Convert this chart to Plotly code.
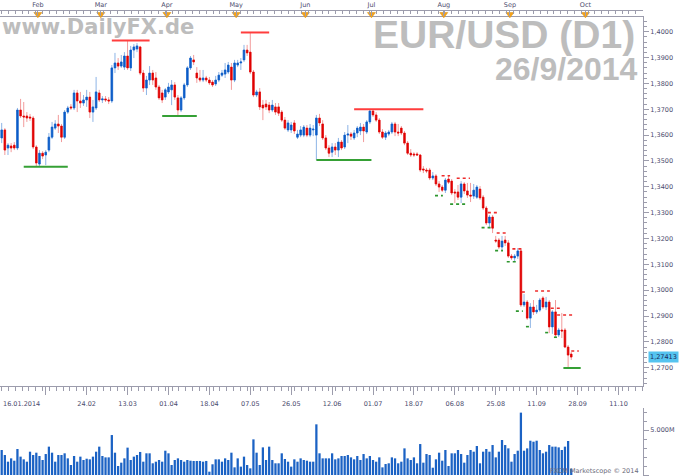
import numpy as np
import pandas as pd
import plotly.graph_objects as go

# ---------------- data ----------------
start_date = "2014-01-16"

opens = [
1.3589,1.3620,1.3550,1.3558,1.3561,1.3550,1.3697,1.3674,1.3674,1.3670,
1.3666,1.3554,1.3488,1.3530,1.3523,1.3542,1.3592,1.3627,1.3643,1.3635,
1.3592,1.3689,1.3709,1.3705,1.3763,1.3732,1.3724,1.3736,1.3747,1.3689,
1.3705,1.3763,1.3736,1.3740,1.3736,1.3732,1.3860,1.3879,1.3867,1.3863,
1.3906,1.3860,1.3929,1.3933,1.3941,1.3840,1.3782,1.3813,1.3840,1.3821,
1.3786,1.3763,1.3747,1.3767,1.3775,1.3794,1.3744,1.3697,1.3744,1.3794,
1.3860,1.3891,1.3840,1.3821,1.3813,1.3821,1.3813,1.3805,1.3798,1.3813,
1.3832,1.3836,1.3844,1.3863,1.3813,1.3871,1.3879,1.3891,1.3929,1.3921,
1.3844,1.3755,1.3767,1.3716,1.3720,1.3716,1.3697,1.3709,1.3709,1.3689,
1.3658,1.3620,1.3620,1.3647,1.3592,1.3600,1.3600,1.3627,1.3600,1.3620,
1.3600,1.3666,1.3643,1.3589,1.3550,1.3534,1.3554,1.3542,1.3573,1.3554,
1.3600,1.3604,1.3589,1.3608,1.3616,1.3631,1.3612,1.3651,1.3693,1.3678,
1.3658,1.3612,1.3592,1.3604,1.3612,1.3643,1.3612,1.3627,1.3608,1.3569,
1.3530,1.3527,1.3527,1.3523,1.3469,1.3465,1.3465,1.3434,1.3442,1.3411,
1.3399,1.3387,1.3430,1.3422,1.3380,1.3380,1.3360,1.3411,1.3384,1.3368,
1.3364,1.3360,1.3391,1.3360,1.3318,1.3260,1.3283,1.3194,1.3194,1.3167,
1.3194,1.3183,1.3132,1.3125,1.3132,1.3152,1.2943,1.2954,1.2892,1.2935,
1.2916,1.2923,1.2970,1.2935,1.2954,1.2858,1.2916,1.2827,1.2846,1.2846,
1.2780,1.2753]

highs = [
1.3647,1.3627,1.3569,1.3569,1.3573,1.3705,1.3740,1.3728,1.3689,1.3682,
1.3674,1.3561,1.3542,1.3538,1.3542,1.3608,1.3651,1.3658,1.3678,1.3643,
1.3697,1.3713,1.3720,1.3775,1.3775,1.3767,1.3755,1.3775,1.3767,1.3736,
1.3825,1.3775,1.3751,1.3751,1.3747,1.3871,1.3918,1.3898,1.3910,1.3921,
1.3968,1.3945,1.3952,1.3956,1.3945,1.3852,1.3829,1.3867,1.3852,1.3844,
1.3794,1.3775,1.3782,1.3802,1.3813,1.3805,1.3755,1.3751,1.3802,1.3867,
1.3906,1.3910,1.3863,1.3852,1.3852,1.3829,1.3825,1.3813,1.3829,1.3844,
1.3852,1.3879,1.3883,1.3879,1.3891,1.3891,1.3898,1.3949,1.3949,1.3995,
1.3852,1.3775,1.3782,1.3736,1.3736,1.3728,1.3736,1.3724,1.3724,1.3697,
1.3670,1.3658,1.3651,1.3658,1.3620,1.3635,1.3639,1.3639,1.3643,1.3639,
1.3678,1.3682,1.3658,1.3600,1.3561,1.3569,1.3569,1.3589,1.3581,1.3612,
1.3639,1.3612,1.3620,1.3635,1.3647,1.3643,1.3658,1.3701,1.3701,1.3689,
1.3666,1.3623,1.3616,1.3620,1.3651,1.3651,1.3643,1.3635,1.3616,1.3577,
1.3546,1.3534,1.3534,1.3527,1.3480,1.3473,1.3473,1.3457,1.3449,1.3422,
1.3407,1.3434,1.3442,1.3430,1.3391,1.3407,1.3422,1.3418,1.3415,1.3415,
1.3411,1.3407,1.3403,1.3368,1.3326,1.3291,1.3291,1.3210,1.3202,1.3210,
1.3210,1.3194,1.3140,1.3140,1.3163,1.3159,1.2985,1.2962,1.2950,1.2962,
1.2943,1.2970,1.2977,1.2974,1.2962,1.2923,1.2962,1.2854,1.2912,1.2854,
1.2788,1.2761]

lows = [
1.3569,1.3523,1.3523,1.3534,1.3542,1.3542,1.3666,1.3631,1.3651,1.3655,
1.3546,1.3480,1.3480,1.3507,1.3484,1.3534,1.3585,1.3620,1.3608,1.3573,
1.3585,1.3682,1.3697,1.3697,1.3689,1.3705,1.3713,1.3709,1.3666,1.3651,
1.3697,1.3728,1.3724,1.3728,1.3720,1.3724,1.3840,1.3852,1.3860,1.3852,
1.3852,1.3848,1.3898,1.3921,1.3832,1.3767,1.3755,1.3794,1.3794,1.3775,
1.3736,1.3724,1.3736,1.3759,1.3716,1.3736,1.3674,1.3689,1.3736,1.3786,
1.3852,1.3871,1.3802,1.3805,1.3805,1.3805,1.3794,1.3786,1.3790,1.3805,
1.3825,1.3821,1.3836,1.3775,1.3805,1.3863,1.3852,1.3883,1.3906,1.3836,
1.3747,1.3747,1.3697,1.3658,1.3697,1.3685,1.3689,1.3678,1.3674,1.3651,
1.3620,1.3612,1.3608,1.3604,1.3585,1.3592,1.3592,1.3592,1.3592,1.3596,
1.3504,1.3635,1.3581,1.3542,1.3515,1.3515,1.3523,1.3515,1.3542,1.3546,
1.3569,1.3581,1.3581,1.3592,1.3600,1.3573,1.3604,1.3643,1.3670,1.3651,
1.3604,1.3585,1.3581,1.3596,1.3604,1.3596,1.3596,1.3600,1.3561,1.3523,
1.3515,1.3515,1.3519,1.3457,1.3453,1.3453,1.3426,1.3426,1.3403,1.3380,
1.3380,1.3376,1.3411,1.3368,1.3337,1.3349,1.3337,1.3372,1.3357,1.3341,
1.3353,1.3353,1.3349,1.3310,1.3252,1.3240,1.3221,1.3183,1.3159,1.3155,
1.3171,1.3125,1.3117,1.3109,1.3121,1.2935,1.2935,1.2885,1.2854,1.2904,
1.2908,1.2916,1.2927,1.2923,1.2834,1.2831,1.2819,1.2819,1.2815,1.2776,
1.2699,1.2730]

closes = [
1.3620,1.3542,1.3561,1.3550,1.3550,1.3697,1.3674,1.3670,1.3666,1.3666,
1.3554,1.3492,1.3530,1.3519,1.3534,1.3592,1.3631,1.3643,1.3635,1.3592,
1.3689,1.3705,1.3705,1.3763,1.3732,1.3724,1.3736,1.3747,1.3689,1.3709,
1.3767,1.3736,1.3740,1.3736,1.3732,1.3860,1.3879,1.3867,1.3883,1.3906,
1.3860,1.3929,1.3941,1.3945,1.3840,1.3782,1.3813,1.3840,1.3813,1.3786,
1.3744,1.3736,1.3775,1.3786,1.3794,1.3747,1.3697,1.3744,1.3794,1.3860,
1.3898,1.3883,1.3821,1.3813,1.3821,1.3813,1.3802,1.3794,1.3813,1.3832,
1.3840,1.3852,1.3871,1.3813,1.3879,1.3879,1.3883,1.3929,1.3918,1.3844,
1.3755,1.3767,1.3709,1.3705,1.3709,1.3697,1.3716,1.3689,1.3685,1.3658,
1.3627,1.3647,1.3639,1.3616,1.3604,1.3620,1.3631,1.3600,1.3627,1.3623,
1.3666,1.3647,1.3589,1.3550,1.3530,1.3554,1.3542,1.3573,1.3550,1.3600,
1.3604,1.3596,1.3608,1.3627,1.3631,1.3616,1.3651,1.3693,1.3678,1.3658,
1.3612,1.3592,1.3608,1.3612,1.3643,1.3612,1.3608,1.3608,1.3569,1.3530,
1.3523,1.3523,1.3523,1.3465,1.3465,1.3461,1.3434,1.3442,1.3411,1.3399,
1.3387,1.3426,1.3418,1.3376,1.3376,1.3360,1.3411,1.3384,1.3368,1.3364,
1.3387,1.3399,1.3357,1.3318,1.3260,1.3283,1.3240,1.3190,1.3167,1.3190,
1.3183,1.3132,1.3125,1.3132,1.3152,1.2943,1.2954,1.2892,1.2935,1.2916,
1.2923,1.2962,1.2935,1.2954,1.2858,1.2916,1.2827,1.2846,1.2842,1.2780,
1.2749,1.27413]

volumes_m = [
2.78,2.22,1.48,1.85,1.59,2.89,2.04,1.74,1.48,2.59,
2.22,2.48,2.11,1.67,2.33,3.15,2.48,1.48,2.22,2.22,
2.41,1.85,1.11,2.11,1.48,2.04,1.67,1.81,1.74,2.04,
2.59,3.15,2.11,1.96,1.96,4.44,2.48,1.00,1.37,1.85,
3.04,1.67,2.04,2.22,2.56,1.48,2.41,2.41,1.30,1.48,
1.67,1.48,2.70,2.41,1.11,1.67,1.85,1.67,1.48,1.67,
1.59,1.56,1.56,1.56,1.48,1.56,0.37,1.19,1.74,1.74,
1.48,1.85,1.67,2.48,0.85,1.85,0.93,2.04,1.11,0.74,
3.96,2.48,1.11,3.07,1.67,3.15,1.67,1.30,1.30,2.41,
1.78,1.48,0.93,1.74,1.48,1.85,1.67,1.59,1.48,1.48,
5.63,2.41,1.85,1.85,1.85,2.41,1.74,1.85,2.11,2.11,
2.22,1.96,1.74,2.11,1.67,2.33,1.85,2.11,1.67,1.48,
1.96,0.85,1.22,1.30,1.96,1.85,1.30,1.48,2.96,1.85,
1.67,1.96,1.30,3.44,1.37,2.33,2.22,0.81,1.74,2.48,
1.59,2.78,1.00,2.41,2.41,2.78,2.33,1.37,2.22,2.78,
2.59,3.22,1.30,2.59,2.89,2.59,3.33,1.96,2.59,3.89,
3.33,2.96,1.48,2.33,2.70,6.93,2.70,2.96,3.81,3.70,
3.81,2.78,2.41,2.59,3.33,3.15,3.15,3.07,2.78,3.15,
3.78,0.70]

# support / resistance levels (bar index span, price)
res_start = [35, 76, 112]
res_end = [47, 85, 134]
res_price = [1.3966, 1.3997, 1.3700]
sup_start = [7, 51, 100, 178.5]
sup_end = [21, 62, 117.5, 184]
sup_price = [1.3478, 1.3674, 1.3504, 1.2699]

rdot_start = [139.8, 144.6, 154.5, 157.3, 162.3, 165.3, 169.5, 174.5, 176.5, 181]
rdot_end = [142.5, 148.8, 157.4, 160.9, 165.3, 167.2, 174.2, 177.4, 181.5, 183.4]
rdot_price = [1.3443, 1.3433, 1.3300, 1.3221, 1.3160, 1.2993, 1.2997, 1.2930, 1.2904, 1.2765]
gdot_start = [137.7, 142.5, 152.5, 156.8, 160.5, 163.4, 166.6, 172.7, 175.5]
gdot_end = [140.2, 148.2, 155.4, 159.3, 164.1, 165.6, 168.2, 174.2, 177.1]
gdot_price = [1.3366, 1.3333, 1.3242, 1.3153, 1.3110, 1.2919, 1.2859, 1.2836, 1.2818]

month_dates = ["2014-02-01", "2014-03-01", "2014-04-01", "2014-05-01", "2014-06-01",
               "2014-07-01", "2014-08-01", "2014-09-01", "2014-10-01"]
month_labels = ["Feb", "Mar", "Apr", "May", "Jun", "Jul", "Aug", "Sep", "Oct"]

date_tick_dates = ["2014-01-16", "2014-02-05", "2014-02-24", "2014-03-13", "2014-04-01",
                   "2014-04-18", "2014-05-07", "2014-05-26", "2014-06-12", "2014-07-01",
                   "2014-07-18", "2014-08-06", "2014-08-25", "2014-09-11", "2014-09-28",
                   "2014-10-11"]
date_tick_labels = ["", "", "24.02", "13.03", "01.04", "18.04", "07.05", "26.05", "12.06",
                    "01.07", "18.07", "06.08", "25.08", "11.09", "28.09", "11.10"]

price_ticks = [1.27, 1.28, 1.29, 1.30, 1.31, 1.32, 1.33, 1.34, 1.35, 1.36, 1.37, 1.38, 1.39, 1.40]
last_price = 1.27413

n = len(closes)
assert len(opens) == n and len(highs) == n and len(lows) == n and len(volumes_m) == n
dates = pd.bdate_range(start_date, periods=n)
last_day = dates[-1]
idx = list(range(n))


def pos(d, shift=0.0):
    d = pd.Timestamp(d)
    if d <= last_day:
        return float(np.busday_count(np.datetime64(start_date, "D"),
                                     np.datetime64(d.date(), "D"))) + shift
    return float(n - 1 + (d - last_day).days) + shift


month_pos = [pos(d, -0.5) for d in month_dates]
date_pos = [pos(d) for d in date_tick_dates]

AX = "#9c9cac"
TXT = "#4b4b6e"
FONT = "DejaVu Sans"
PLOT_W = 643.0
H = 476.0

fig = go.Figure()

# wicks (light) + bodies (solid)
fig.add_trace(go.Candlestick(
    x=idx, open=opens, high=highs, low=lows, close=closes,
    increasing=dict(line=dict(color="#8db4e6", width=1), fillcolor="#8db4e6"),
    decreasing=dict(line=dict(color="#f29b9b", width=1), fillcolor="#f29b9b"),
    whiskerwidth=0, hoverinfo="skip", xaxis="x", yaxis="y"))
body_hi = [max(o, c) for o, c in zip(opens, closes)]
body_lo = [min(o, c) for o, c in zip(opens, closes)]
fig.add_trace(go.Candlestick(
    x=idx, open=opens, high=body_hi, low=body_lo, close=closes,
    increasing=dict(line=dict(color="#0b5cc8", width=0.6), fillcolor="#0b5cc8"),
    decreasing=dict(line=dict(color="#e00000", width=0.6), fillcolor="#e00000"),
    whiskerwidth=0, xaxis="x", yaxis="y"))


def seg(starts, ends, prices):
    xs, ys = [], []
    for s, e, p in zip(starts, ends, prices):
        xs += [s, e, None]
        ys += [p, p, None]
    return xs, ys


xs, ys = seg(res_start, res_end, res_price)
fig.add_trace(go.Scatter(x=xs, y=ys, mode="lines", line=dict(color="#ff3d3d", width=2),
                         hoverinfo="skip", xaxis="x", yaxis="y"))
xs, ys = seg(sup_start, sup_end, sup_price)
fig.add_trace(go.Scatter(x=xs, y=ys, mode="lines", line=dict(color="#35a035", width=2),
                         hoverinfo="skip", xaxis="x", yaxis="y"))
xs, ys = seg(rdot_start, rdot_end, rdot_price)
fig.add_trace(go.Scatter(x=xs, y=ys, mode="lines", line=dict(color="#ee2b2b", width=1.6, dash="dot"),
                         hoverinfo="skip", xaxis="x", yaxis="y"))
xs, ys = seg(gdot_start, gdot_end, gdot_price)
fig.add_trace(go.Scatter(x=xs, y=ys, mode="lines", line=dict(color="#2e962e", width=1.6, dash="dot"),
                         hoverinfo="skip", xaxis="x", yaxis="y"))

# volume
fig.add_trace(go.Bar(x=idx, y=volumes_m, width=0.72, marker=dict(color="#1b62c4", line=dict(width=0)),
                     xaxis="x2", yaxis="y2", hoverinfo="skip"))

# month markers on top ruler
fig.add_trace(go.Scatter(x=month_pos, y=[0.45] * len(month_pos), mode="markers",
                         marker=dict(symbol="triangle-down", size=7, color="#f5a31c",
                                     line=dict(color="#d98a00", width=0.5)),
                         xaxis="x3", yaxis="y3", cliponaxis=False, hoverinfo="skip"))


def py(pix):
    return 1 - pix / H


def px(pix):
    return pix / PLOT_W


x_range = [-0.54, 203.8]
p_bot = 1.412263 - 0.00038685 * 386
p_top = 1.412263 - 0.00038685 * 17

minor_x = [k * 13 / 6.0 for k in range(0, 96)]

fig.update_layout(
    width=680, height=476, margin=dict(l=0, r=680 - PLOT_W, t=0, b=0, autoexpand=False),
    paper_bgcolor="white", plot_bgcolor="white", showlegend=False,
    font=dict(family=FONT, size=7, color=TXT),
    boxgap=0.3, boxmode="overlay",
    xaxis=dict(domain=[0, 1], range=x_range, anchor="y", rangeslider=dict(visible=False),
               tickmode="array", tickvals=date_pos, ticktext=date_tick_labels,
               ticks="outside", ticklen=8, tickcolor=AX, showline=True, linecolor=AX,
               mirror=True, showgrid=False, zeroline=False, ticklabelstandoff=3,
               tickfont=dict(size=6.5, color=TXT),
               minor=dict(tickvals=minor_x, ticks="outside", ticklen=4, tickcolor=AX, showgrid=False)),
    yaxis=dict(domain=[py(386), py(17)], range=[p_bot, p_top], side="right", anchor="x",
               tickmode="array", tickvals=price_ticks,
               ticktext=[f"{v:.4f}".replace(".", ",") for v in price_ticks],
               ticks="outside", ticklen=5, tickcolor=AX, showline=True, linecolor=AX,
               showgrid=False, zeroline=False, tickfont=dict(size=6.5, color=TXT),
               minor=dict(dtick=0.002, ticks="outside", ticklen=3, tickcolor=AX, showgrid=False)),
    xaxis2=dict(domain=[0, 1], matches="x", anchor="y2", showticklabels=False, ticks="",
                showline=False, showgrid=False, zeroline=False),
    yaxis2=dict(domain=[0, py(408)], range=[-1 / 9.0, 67 / 9.0], side="right", anchor="x2",
                tickmode="array", tickvals=[0, 5], ticktext=["0", "5.000M"],
                ticks="outside", ticklen=5, tickcolor=AX, showline=True, linecolor=AX,
                showgrid=False, zeroline=False, tickfont=dict(size=6.5, color=TXT),
                minor=dict(dtick=1, ticks="outside", ticklen=3, tickcolor=AX, showgrid=False)),
    xaxis3=dict(domain=[0, 1], matches="x", anchor="y3", side="top",
                tickmode="array", tickvals=month_pos, ticktext=month_labels,
                ticks="inside", ticklen=5, tickcolor=AX, showline=True, linecolor=AX,
                showgrid=False, zeroline=False, tickfont=dict(size=6.5, color=TXT),
                minor=dict(tickvals=minor_x, ticks="inside", ticklen=3, tickcolor=AX, showgrid=False)),
    yaxis3=dict(domain=[py(17), py(11)], range=[0, 1], anchor="x3", visible=False),
)

ann = []
ann.append(dict(text="<b>www.DailyFX.de</b>", x=px(0), y=py(27), xref="paper", yref="paper",
                xanchor="left", yanchor="middle", showarrow=False,
                font=dict(family="DejaVu Sans", size=21, color="#bdbdbd")))
ann.append(dict(text="<b>EUR/USD (D1)</b>", x=px(637), y=py(35), xref="paper", yref="paper",
                xanchor="right", yanchor="middle", showarrow=False,
                font=dict(family="Liberation Sans", size=39, color="#bdbdbd")))
ann.append(dict(text="<b>26/9/2014</b>", x=px(640), y=py(69), xref="paper", yref="paper",
                xanchor="right", yanchor="middle", showarrow=False,
                font=dict(family="Liberation Sans", size=32, color="#bdbdbd")))
ann.append(dict(text="16.01.2014", x=px(1), y=py(404), xref="paper", yref="paper",
                xanchor="left", yanchor="middle", showarrow=False,
                font=dict(family=FONT, size=6.5, color=TXT)))
ann.append(dict(text=f"{last_price:.5f}".replace(".", ","), x=px(648), y=last_price,
                xref="paper", yref="y", xanchor="left", yanchor="middle", showarrow=False,
                bgcolor="#55c3ef", borderpad=1,
                font=dict(family=FONT, size=6.5, color="#1a2a5a")))
ann.append(dict(text="FXCM Marketscope © 2014", x=px(641), y=py(471), xref="paper", yref="paper",
                xanchor="right", yanchor="middle", showarrow=False,
                font=dict(family=FONT, size=6.5, color="#6a6a7a")))
fig.update_layout(annotations=ann)

fig.write_html("out.html", config={"displayModeBar": False},
               post_script="document.body.style.margin='0px';document.body.style.overflow='hidden';")
